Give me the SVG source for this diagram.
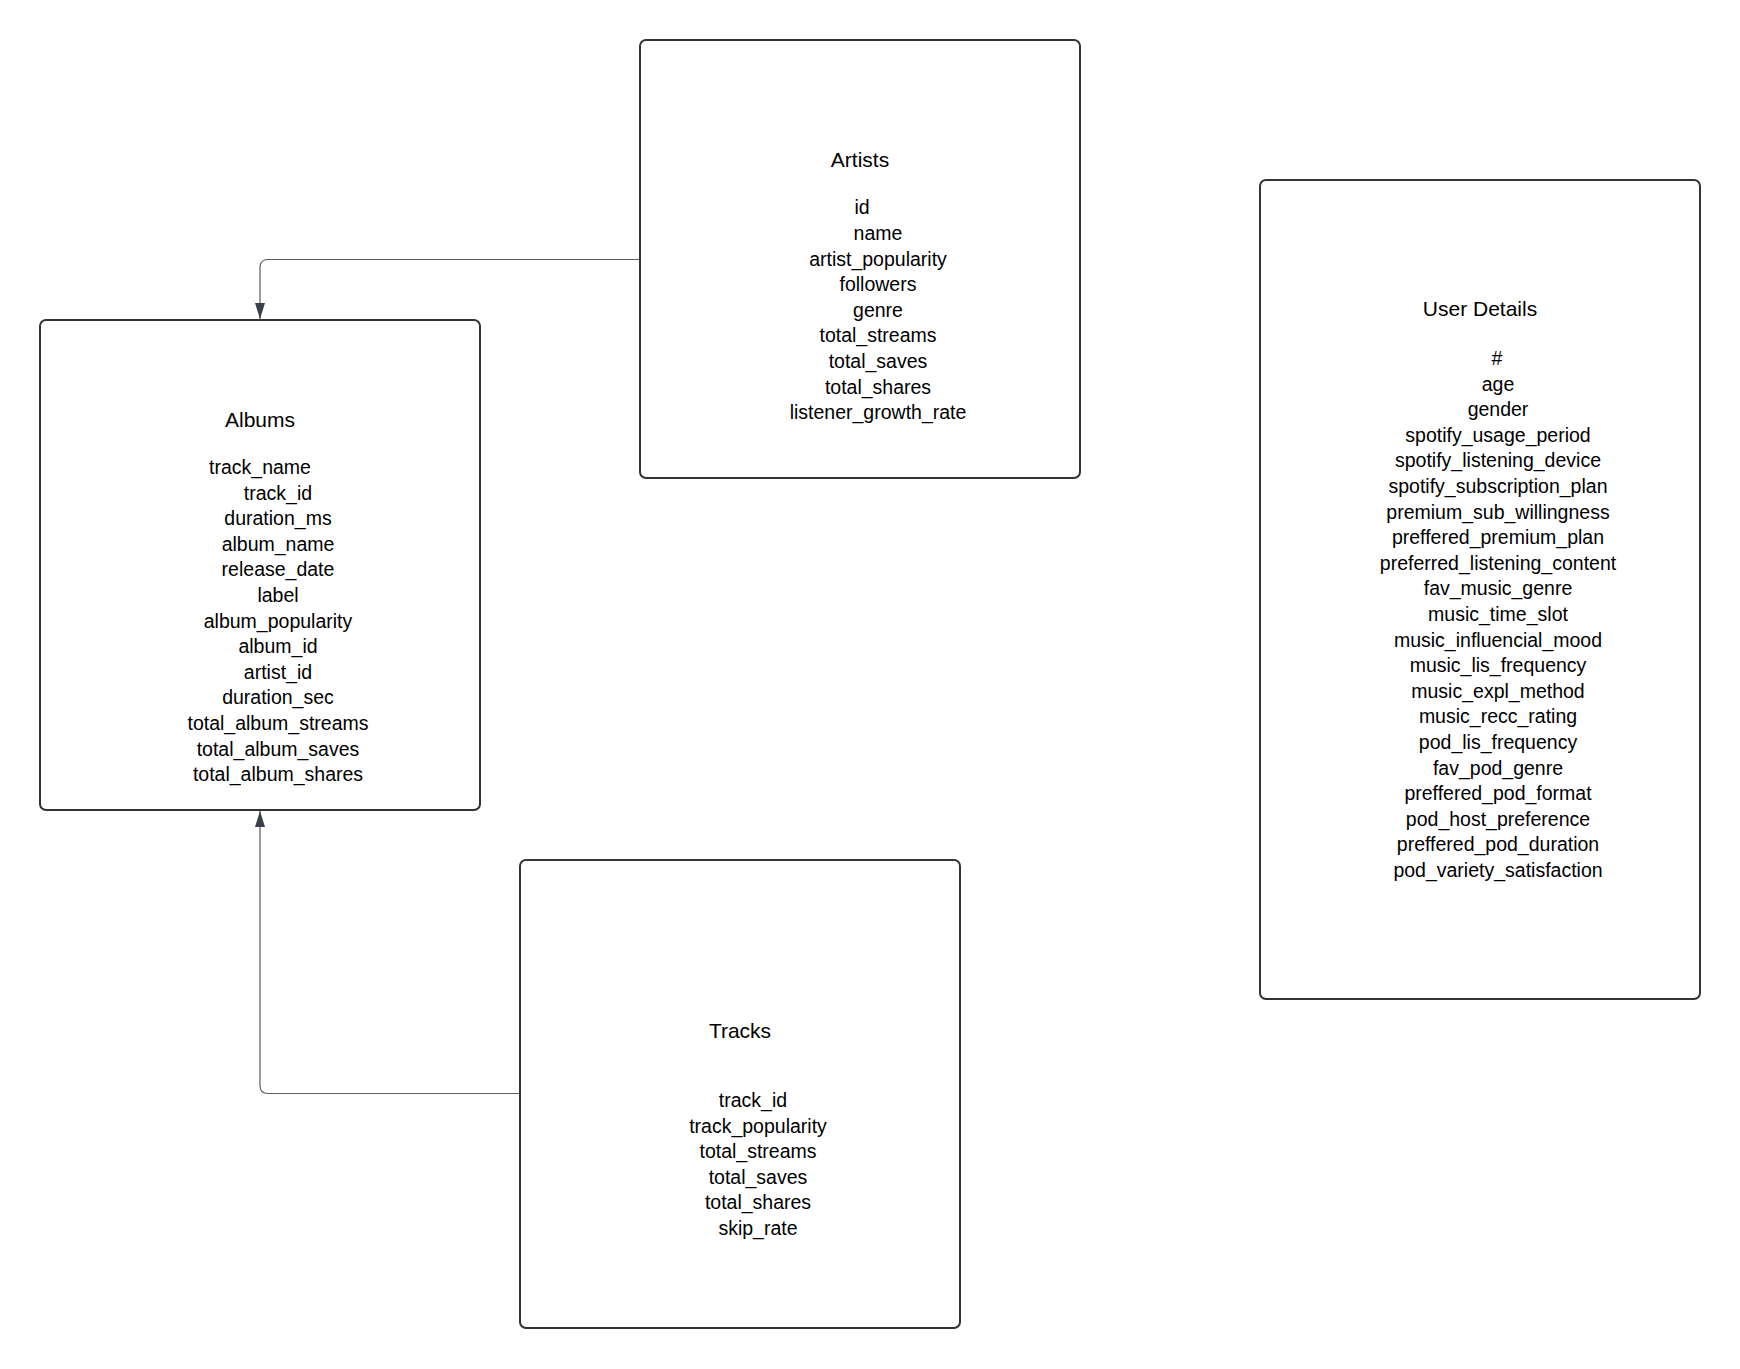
<svg xmlns="http://www.w3.org/2000/svg" width="1740" height="1369" viewBox="0 0 1740 1369">
<style>
.box{fill:#ffffff;stroke:#333333;stroke-width:2}
.title{font-family:"Liberation Sans",Arial,sans-serif;font-size:21px;fill:#000;text-anchor:middle}
.f{font-family:"Liberation Sans",Arial,sans-serif;font-size:19.5px;fill:#000;text-anchor:middle}
.conn{fill:none;stroke:#5a5d63;stroke-width:1.2}
</style>
<defs>
<marker id="arr" viewBox="0 0 16 10" refX="16" refY="5" markerWidth="16" markerHeight="10" markerUnits="userSpaceOnUse" orient="auto">
<path d="M0,0 L16,5 L0,10 z" fill="#3a3f4b"/>
</marker>
</defs>
<rect width="1740" height="1369" fill="#ffffff"/>
<g id="connectors">
<path class="conn" d="M640,259.5 H268 Q260,259.5 260,267.5 V319" marker-end="url(#arr)"/>
<path class="conn" d="M520,1093.5 H268 Q260,1093.5 260,1085.5 V811" marker-end="url(#arr)"/>
</g>
<g id="artists">
<rect class="box" x="640" y="40" width="440" height="438" rx="6"/>
<text class="title" x="860" y="167">Artists</text>
<text class="f" x="862" y="214">id</text>
<text class="f" x="878" y="240">name</text>
<text class="f" x="878" y="265.6">artist_popularity</text>
<text class="f" x="878" y="291.2">followers</text>
<text class="f" x="878" y="316.8">genre</text>
<text class="f" x="878" y="342.4">total_streams</text>
<text class="f" x="878" y="368">total_saves</text>
<text class="f" x="878" y="393.6">total_shares</text>
<text class="f" x="878" y="419.2">listener_growth_rate</text>
</g>
<g id="albums">
<rect class="box" x="40" y="320" width="440" height="490" rx="6"/>
<text class="title" x="260" y="427">Albums</text>
<text class="f" x="260" y="474">track_name</text>
<text class="f" x="278" y="499.6">track_id</text>
<text class="f" x="278" y="525.2">duration_ms</text>
<text class="f" x="278" y="550.8">album_name</text>
<text class="f" x="278" y="576.4">release_date</text>
<text class="f" x="278" y="602">label</text>
<text class="f" x="278" y="627.6">album_popularity</text>
<text class="f" x="278" y="653.2">album_id</text>
<text class="f" x="278" y="678.8">artist_id</text>
<text class="f" x="278" y="704.4">duration_sec</text>
<text class="f" x="278" y="730">total_album_streams</text>
<text class="f" x="278" y="755.6">total_album_saves</text>
<text class="f" x="278" y="781.2">total_album_shares</text>
</g>
<g id="tracks">
<rect class="box" x="520" y="860" width="440" height="468" rx="6"/>
<text class="title" x="740" y="1038">Tracks</text>
<text class="f" x="753" y="1107">track_id</text>
<text class="f" x="758" y="1132.6">track_popularity</text>
<text class="f" x="758" y="1158.2">total_streams</text>
<text class="f" x="758" y="1183.8">total_saves</text>
<text class="f" x="758" y="1209.4">total_shares</text>
<text class="f" x="758" y="1235">skip_rate</text>
</g>
<g id="user-details">
<rect class="box" x="1260" y="180" width="440" height="819" rx="6"/>
<text class="title" x="1480" y="316">User Details</text>
<text class="f" x="1497" y="365">#</text>
<text class="f" x="1498" y="390.6">age</text>
<text class="f" x="1498" y="416.2">gender</text>
<text class="f" x="1498" y="441.8">spotify_usage_period</text>
<text class="f" x="1498" y="467.4">spotify_listening_device</text>
<text class="f" x="1498" y="493">spotify_subscription_plan</text>
<text class="f" x="1498" y="518.6">premium_sub_willingness</text>
<text class="f" x="1498" y="544.2">preffered_premium_plan</text>
<text class="f" x="1498" y="569.8">preferred_listening_content</text>
<text class="f" x="1498" y="595.4">fav_music_genre</text>
<text class="f" x="1498" y="621">music_time_slot</text>
<text class="f" x="1498" y="646.6">music_influencial_mood</text>
<text class="f" x="1498" y="672.2">music_lis_frequency</text>
<text class="f" x="1498" y="697.8">music_expl_method</text>
<text class="f" x="1498" y="723.4">music_recc_rating</text>
<text class="f" x="1498" y="749">pod_lis_frequency</text>
<text class="f" x="1498" y="774.6">fav_pod_genre</text>
<text class="f" x="1498" y="800.2">preffered_pod_format</text>
<text class="f" x="1498" y="825.8">pod_host_preference</text>
<text class="f" x="1498" y="851.4">preffered_pod_duration</text>
<text class="f" x="1498" y="877">pod_variety_satisfaction</text>
</g>
</svg>
